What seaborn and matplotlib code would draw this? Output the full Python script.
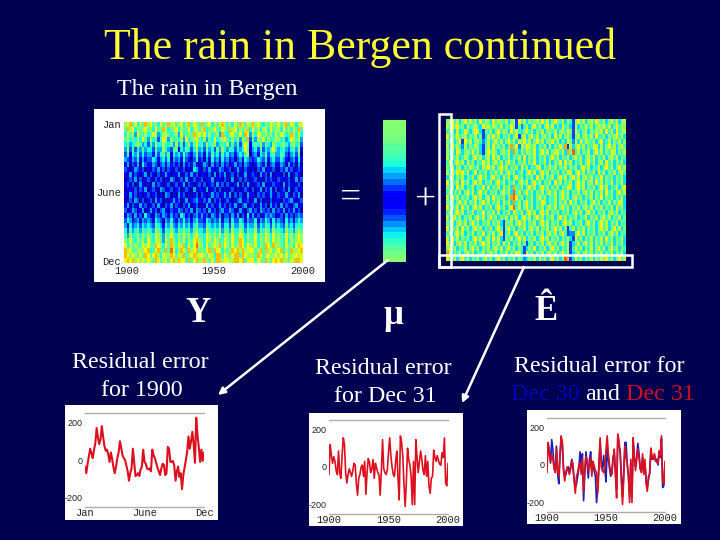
import matplotlib
matplotlib.use("Agg")
import matplotlib.pyplot as plt
from matplotlib.patches import Rectangle
import numpy as np
import seaborn as sns

BG = "#000050"
FIG_W, FIG_H = 720, 540
SERIF = "Liberation Serif"
MONO = "Liberation Mono"
SANS = "Liberation Sans"

# digit scale: 0 = deep blue ... 9 = red, one row per band of the year
rain_rows = [
    "6785746586 7564756867 5674685765 8567465786 5647586576 8675465765 7568576467",
    "5867465675 6475586456 7465574675 6845675476 5867465684 7564674756 6475647585",
    "4756375564 5763467545 6374565867 5746456385 4675574873 6476565647 5764586474",
    "5645464753 6452576364 5463745675 4635474567 5464636582 5365746456 6453476563",
    "4534565342 5364465453 6352463574 5364563454 6353525761 4546354365 4564356452",
    "3625243534 4253364325 5143542463 4253425364 3542434751 3425243574 3453245361",
    "2514352423 3142453514 3425321352 3142534253 4231343560 2314352453 3542134250",
    "3213241312 2431342403 2314210241 2031423142 3120231432 1243241342 2431023141",
    "1302130421 1320231312 1203121310 1320312031 2013120321 0132130231 1320312030",
    "2101321201 0213120210 2012010431 0213101320 1201310210 1021301120 0213120121",
    "1030210130 2102013101 1301203120 1102030213 0120201301 2103120301 1020301210",
    "0121302012 1021201032 0120310201 2011301102 1030120210 1201021210 2101201302",
    "1202013101 0302101201 2013021012 0201203120 2101302031 0120301021 1030210120",
    "0110202130 1210320120 1201210301 1030120201 0120101210 2013021302 0120301201",
    "1031201012 0120103201 0312010120 2101312013 1302021031 1021201310 2103102130",
    "0120320201 2031201013 1201301231 0213021201 2101230120 1302010201 1021231012",
    "1302103120 1203102130 2102130120 1031201312 0213102301 2013120312 0302102301",
    "2013201301 3120231021 1320213032 1203120231 1320131023 1203212031 2130213120",
    "1320312042 1032132131 2043120231 3120321302 2031302041 3120132320 1203120232",
    "2431231323 2143203242 1324231342 2143232413 3142243132 2413243142 3214231343",
    "3142342434 3254314353 2435342453 3254343524 4253354243 3524354253 4325342454",
    "4253453545 4365425464 3546453564 4365454635 5364465354 4635465364 5436453565",
    "5364564656 5476536575 4657564675 5476565746 6475576465 5746576475 6547564676",
    "6475465647 5476537586 4657465786 5476576457 6475587465 5746576475 6547465676",
    "7465655767 5587647586 5768475796 6475676857 6475687576 5746587586 6547564787",
    "8675566678 4578558597 4687586785 6578587746 5687868677 7568586756 7846586678",
    "8767657587 5786476687 5768567867 7657648857 6578858766 6587567667 6757567767",
    "7878676767 6587567578 6877585786 6865758867 7668878577 7576586578 7866576887",
]
residual_rows = [
    "5674635746 4537465374 6546356174 6354564746 3575463641 5746356475 4635746356",
    "6475745364 5643756465 4635475152 4635746357 4635374531 6354746356 5746357465",
    "4563634753 5763154635 7465374643 5746354635 5463564751 7435635465 6374637456",
    "7354745635 4635136474 6354635715 6357463564 6374635641 5635746374 4635467463",
    "5463571746 3564246357 4635746365 7463574635 5746353752 6374654635 7346354635",
    "6374642635 4653146374 5463584726 5764635463 6354748163 5746354763 6357463574",
    "5463753564 7463157465 3564738536 4654735746 3567463859 4635463574 6354763546",
    "6354634653 5746356374 6354635463 7354635463 5746354635 7463564735 4635746354",
    "4735746374 6354746357 4635746354 6354735463 6354737463 5463574635 6374635463",
    "5463563546 5463657463 5746354637 4635467354 7463546354 6357463546 3574635746",
    "6374757463 4735463546 4635746346 3574635746 3546354763 5746354637 4635463574",
    "3563546354 6357463574 5374635746 3546374635 4635746357 4635746354 7354635463",
    "7354637463 5746354635 7463546357 4635746354 6374635463 5746356374 6354735463",
    "5463746354 6354736354 6374638546 3574635746 3546354763 5746354635 7463546357",
    "4635463574 6357463546 3574639463 5746354635 7463574635 4635746354 6374635746",
    "6374635463 5746356374 5463589746 3546357463 5463574635 7463546354 7354635463",
    "5463574635 4635746354 6374638463 5746354763 5463546374 6354635746 3546354763",
    "7354637463 5746354635 7463579463 5746354635 7463574635 4635746354 6354637463",
    "4635746354 6354735463 6354637546 3574635746 3546354635 7463574635 4635746354",
    "6357463546 3574635746 3546364635 7463574635 4635746354 6354735463 5746354635",
    "5463574635 7463546354 6315463574 6354635746 3546357463 5463574635 7463546354",
    "7354637463 5746354635 7415746354 6357463546 3574635146 3546354635 7463574635",
    "4635746354 6354735463 5714635746 3546354635 7463574122 5746354635 4635746354",
    "6374635463 5746356374 6315463574 6354635746 3546354631 7463546354 6374635463",
    "7463574635 4635746354 6374635463 5146354635 7463574613 4635746354 6354735463",
    "5746354635 7463546357 4635746354 1354735463 5746354614 7463546357 4635746354",
    "8635463574 6354635746 3546354763 1746354635 7463574613 4635746354 6354735463",
    "7546357463 5463574635 7463546354 2354637463 5746359813 7463546354 6574635746",
]
mean_by_day = [5.6, 5.6, 5.5, 5.3, 5.0, 4.8, 4.5, 4.1, 3.5, 2.9, 2.3, 1.6,
               1.0, 0.7, 0.9, 1.4, 2.0, 2.7, 3.3, 3.9, 4.4, 4.9, 5.4, 5.6]

month_labels = ["Jan", "June", "Dec"]
year_labels = ["1900", "1950", "2000"]
residual_ticks = [200, 0, -200]

year_1900 = [
    -35, -70, -20, 20, 60, 35, 10, 55, 90, 170, 120, 85, 110, 180, 125, 75,
    50, 55, 30, -10, 40, 5, -40, -70, -35, 10, 40, 100, 65, 25, 10, 0, -30,
    -60, -110, -70, -45, 60, -10, -85, -80, -70, -85, -50, -35, 55, -10,
    -20, -45, -50, -45, -60, 55, 25, 10, -15, -40, -60, -80, -45, -20, -25,
    -80, -70, 70, 60, -10, -10, -5, -30, -110, -60, -35, -90, -70, -155, -80,
    -40, 0, 45, 125, 60, 100, 150, 85, -15, 225, 130, 65, -10, 55, -5, 40,
]
dec_31 = [
    -40, 120, 60, 20, 55, 30, -20, -40, 85, -30, -60, 60, 155, 120, -30, -85,
    -40, -10, -30, -50, -20, 20, 10, -90, -150, -60, -40, 0, 10, -50, 30,
    -145, -30, 45, 25, -30, -10, 40, -60, 20, -5, -30, -40, -150, -20, 145,
    -10, -30, -40, -15, 80, 155, 60, 0, -40, -50, 30, 85, -60, -175, 165,
    130, 60, -90, -210, -80, 100, 40, 10, -50, -200, 30, -200, 145, 50,
    -30, 30, 85, 40, -20, -40, 60, -50, 30, -100, -140, -60, -50, 90, 50, 30,
    60, 35, 15, 10, 75, 50, 155, -85, -100, 20,
]
dec_30 = [
    20, 110, 70, 10, 135, 80, -10, -30, 100, -50, -100, 40, 140, 110, -20, -60,
    -50, -20, -10, -40, -10, 30, -20, -70, -120, -100, -60, -20, 70, -20, 60,
    -190, -50, 70, 10, -70, 30, 70, -30, 0, -30, -60, -200, -120, 0, 130, 20,
    -30, 50, -20, -90, 90, 30, -20, -60, -30, 40, 70, -30, -130, 150, 100,
    80, -50, -170, -40, 120, 120, 0, -60, -170, 10, -170, 120, 40, -10, 40,
    115, 60, -20, -30, 40, -40, 10, -80, -120, -80, -40, 70, 30, 40, 50, 20,
    30, 0, 60, 40, 140, -120, -110, 0,
]


def decode_rows(rows):
    return np.array([[int(c) for c in row.replace(" ", "")] for row in rows])


def box(fig, left, top, right, bottom, **kwargs):
    # pixel box measured from the top left of the slide
    return fig.add_axes(
        [left / FIG_W, 1 - bottom / FIG_H, (right - left) / FIG_W, (bottom - top) / FIG_H],
        **kwargs,
    )


def draw_field(fig, matrix, left, top, right, bottom, vmin, vmax, show_labels=False):
    ax = box(fig, left, top, right, bottom, zorder=3)
    sns.heatmap(matrix, cmap="jet", vmin=vmin, vmax=vmax, cbar=False, ax=ax,
                xticklabels=False, yticklabels=False)
    if show_labels:
        ax.set_xticks([1, matrix.shape[1] / 2, matrix.shape[1]])
        ax.set_xticklabels(year_labels, family=MONO, fontsize=7.5, rotation=0)
        ax.set_yticks([0.3, matrix.shape[0] / 2, matrix.shape[0] - 0.3])
        ax.set_yticklabels(month_labels, family=MONO, fontsize=7.5, rotation=0)
        ax.tick_params(length=0, pad=2, colors="#222222")
    return ax


def draw_residual(fig, left, top, right, bottom, series, xlabels, xticks):
    ax = box(fig, left, top, right, bottom, zorder=3)
    for x, y, color, width in series:
        sns.lineplot(x=x, y=y, color=color, linewidth=width, ax=ax)
    ax.set_xlim(xticks[0], xticks[-1])
    ax.set_ylim(-250, 250)
    ax.set_xticks(xticks)
    ax.set_xticklabels(xlabels, family=MONO, fontsize=7.5)
    ax.set_yticks(residual_ticks)
    ax.set_yticklabels(residual_ticks, family=SANS, fontsize=6.5)
    ax.tick_params(axis="x", length=0, pad=1, colors="#222222")
    ax.tick_params(axis="y", length=1.5, width=0.5, pad=0.5, color="#999999", labelcolor="#222222")
    ax.set_facecolor("white")
    for side in ("left", "right"):
        ax.spines[side].set_visible(False)
    for side in ("top", "bottom"):
        ax.spines[side].set_color("#b4ad9f")
        ax.spines[side].set_linewidth(1)
    return ax


sns.set_theme(style="white")
plt.rcParams["font.family"] = [SERIF, "DejaVu Serif"]
plt.rcParams["axes.unicode_minus"] = False

fig = plt.figure(figsize=(7.2, 5.4), dpi=100, facecolor=BG)

back = box(fig, 0, 0, FIG_W, FIG_H, zorder=1)
back.set_xlim(0, FIG_W)
back.set_ylim(FIG_H, 0)
back.axis("off")
for left, top, right, bottom in [(94, 109, 325, 282), (65, 405, 218, 520),
                                 (309, 413, 463, 526), (527, 410, 681, 524)]:
    back.add_patch(Rectangle((left, top), right - left, bottom - top, color="white", lw=0))

back.text(360, 48, "The rain in Bergen continued", color="#ffff33", fontsize=31.5, ha="center", va="center")
back.text(207, 90, "The rain in Bergen", color="white", fontsize=17.3, ha="center", va="center")
back.text(350, 198, "=", color="white", fontsize=27, ha="center", va="center")
back.text(425, 200, "+", color="white", fontsize=27, ha="center", va="center")
back.text(198, 314, "Y", color="white", fontsize=25, fontweight="bold", ha="center", va="center")
back.text(393, 316, "μ", color="white", fontsize=25, fontweight="bold", ha="center", va="center")
back.text(546, 311, "Ê", color="white", fontsize=25, fontweight="bold", ha="center", va="center")
back.text(140, 362, "Residual error", color="white", fontsize=17.3, ha="center", va="center")
back.text(142, 391, "for 1900", color="white", fontsize=17.3, ha="center", va="center")
back.text(383, 369, "Residual error", color="white", fontsize=17.3, ha="center", va="center")
back.text(385, 397, "for Dec 31", color="white", fontsize=17.3, ha="center", va="center")
back.text(599, 366, "Residual error for", color="white", fontsize=17.3, ha="center", va="center")
back.text(511, 395, "Dec 30", color="#0000b4", fontsize=17.3, ha="left", va="center")
back.text(585, 395, "and", color="white", fontsize=17.3, ha="left", va="center")
back.text(626, 395, "Dec 31", color="#d01020", fontsize=17.3, ha="left", va="center")

draw_field(fig, decode_rows(rain_rows), 124, 122, 303, 263, -0.5, 11.5, show_labels=True)
draw_field(fig, np.array(mean_by_day).reshape(-1, 1), 383, 120, 406, 262, -0.5, 11.5)
draw_field(fig, decode_rows(residual_rows), 446, 119, 626, 261, -1.5, 11.5)

days = list(range(len(year_1900)))
years = [1900 + i for i in range(len(dec_31))]
draw_residual(fig, 85, 413, 204, 507, [(days, year_1900, "#dd1020", 1.5)],
              month_labels, [0, (len(days) - 1) / 2, len(days) - 1])
draw_residual(fig, 329, 420, 448, 514, [(years, dec_31, "#dd1020", 1.2)],
              year_labels, [1900, 1950, 2000])
draw_residual(fig, 547, 418, 665, 512,
              [(years, dec_30, "#2020b0", 1.2), (years, dec_31, "#dd1020", 1.2)],
              year_labels, [1900, 1950, 2000])

front = box(fig, 0, 0, FIG_W, FIG_H, zorder=5)
front.set_xlim(0, FIG_W)
front.set_ylim(FIG_H, 0)
front.axis("off")
front.patch.set_alpha(0)
for left, top, right, bottom in [(439, 114, 451, 267), (439, 255, 632, 267)]:
    front.add_patch(Rectangle((left, top), right - left, bottom - top, fill=False, ec="white", lw=1.8))
for start, end in [((388, 260), (218, 395)), ((524, 267), (462, 403))]:
    front.annotate("", xy=end, xytext=start,
                   arrowprops=dict(arrowstyle="-|>", color="white", lw=1.8, mutation_scale=10,
                                   shrinkA=0, shrinkB=0))

fig.savefig("out.png", dpi=100, facecolor=BG)
